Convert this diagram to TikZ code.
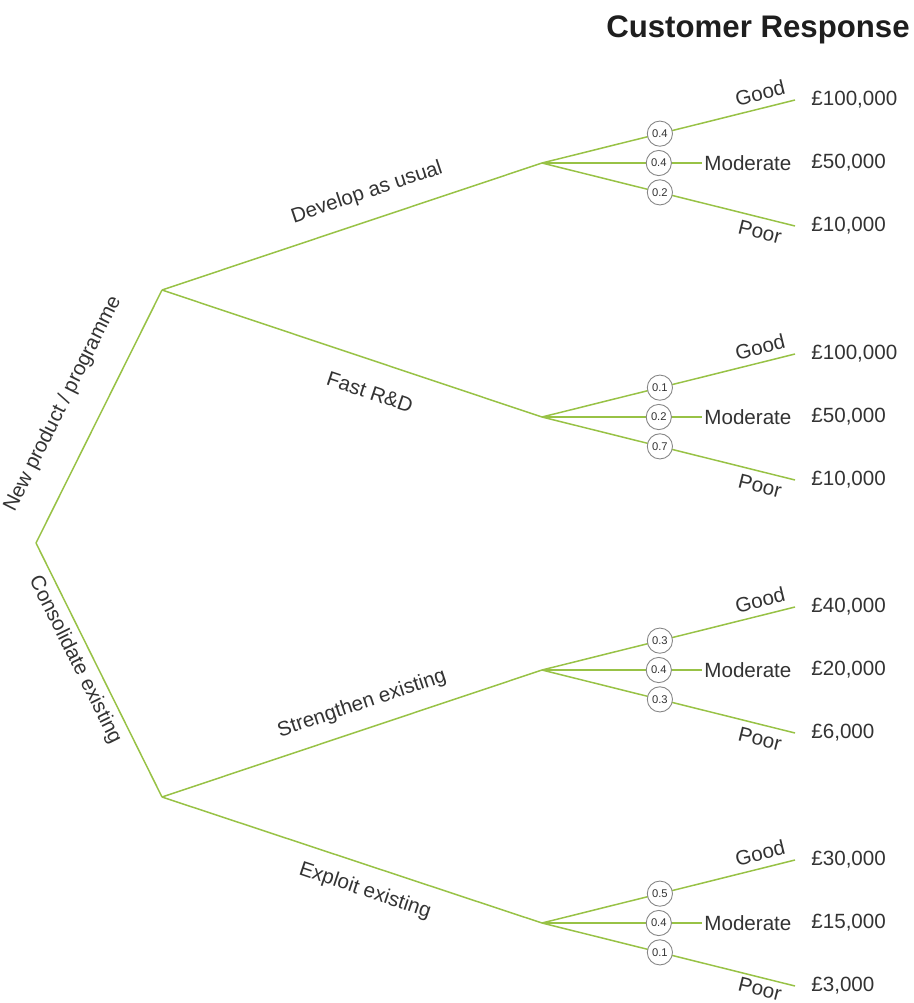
\documentclass[tikz,border=0pt]{standalone}
\usepackage{fontspec}
\setmainfont{Liberation Sans}
\definecolor{treegreen}{RGB}{152,194,70}
\definecolor{labelgrey}{RGB}{51,51,51}
\definecolor{ringgrey}{RGB}{135,135,135}
\definecolor{titleblack}{RGB}{30,30,30}

\begin{document}
\begin{tikzpicture}[x=0.5pt, y=-0.5pt,
  branch/.style={draw=treegreen, line width=0.75pt},
  prob/.style={draw=ringgrey, line width=0.45pt, fill=white, circle, inner sep=0pt, minimum size=12.6pt, text=labelgrey, font=\fontsize{5.6}{6}\selectfont},
  txt/.style={text=labelgrey, inner sep=1pt, font=\fontsize{10.3}{12}\selectfont}]
\useasboundingbox (0,0) rectangle (914,1003);

\node (title) [font=\bfseries\fontsize{15.6}{18}\selectfont, text=titleblack, anchor=base] at (758,37) {Customer Response};

% decision points
\coordinate (root) at (36,543);
\coordinate (np) at (162,290);
\coordinate (cons) at (162,797);
\coordinate (dev) at (542,163);
\coordinate (fast) at (542,417);
\coordinate (str) at (542,670);
\coordinate (exp) at (542,923);

\draw [branch] (root) -- (np);
\draw [branch] (root) -- (cons);
\draw [branch] (np) -- (dev);
\draw [branch] (np) -- (fast);
\draw [branch] (cons) -- (str);
\draw [branch] (cons) -- (exp);

\node (nplabel) [txt, rotate=63.5] at (63,404) {New product / programme};
\node (conslabel) [txt, rotate=-63.5] at (75,660) {Consolidate existing};
\node (devlabel) [txt, rotate=18.5] at (367,193) {Develop as usual};
\node (fastlabel) [txt, rotate=-18.5] at (370,392) {Fast R\&D};
\node (strlabel) [txt, rotate=18.5] at (362,704) {Strengthen existing};
\node (explabel) [txt, rotate=-18.5] at (365,891) {Exploit existing};

% develop as usual
\coordinate (devG) at (795,100);
\coordinate (devP) at (795,226);
\node (devmod) [txt, anchor=west] at (702,163) {Moderate};
\node (devgood) [txt, rotate=14] at (760,93) {Good};
\node (devpoor) [txt, rotate=-14] at (760,232) {Poor};
\node (devv1) [txt, anchor=west] at (809,100) {£100,000};
\node (devv2) [txt, anchor=west] at (809,163) {£50,000};
\node (devv3) [txt, anchor=west] at (809,226) {£10,000};
\draw [branch] (dev) -- node [prob, pos=0.466] (devp1) {0.4} (devG);
\draw [branch] (dev) -- node [prob, pos=0.73] (devp2) {0.4} (devmod);
\draw [branch] (dev) -- node [prob, pos=0.466] (devp3) {0.2} (devP);

% fast R&D
\coordinate (fastG) at (795,354);
\coordinate (fastP) at (795,480);
\node (fastmod) [txt, anchor=west] at (702,417) {Moderate};
\node (fastgood) [txt, rotate=14] at (760,347) {Good};
\node (fastpoor) [txt, rotate=-14] at (760,486) {Poor};
\node (fastv1) [txt, anchor=west] at (809,354) {£100,000};
\node (fastv2) [txt, anchor=west] at (809,417) {£50,000};
\node (fastv3) [txt, anchor=west] at (809,480) {£10,000};
\draw [branch] (fast) -- node [prob, pos=0.466] (fastp1) {0.1} (fastG);
\draw [branch] (fast) -- node [prob, pos=0.73] (fastp2) {0.2} (fastmod);
\draw [branch] (fast) -- node [prob, pos=0.466] (fastp3) {0.7} (fastP);

% strengthen existing
\coordinate (strG) at (795,607);
\coordinate (strP) at (795,733);
\node (strmod) [txt, anchor=west] at (702,670) {Moderate};
\node (strgood) [txt, rotate=14] at (760,600) {Good};
\node (strpoor) [txt, rotate=-14] at (760,739) {Poor};
\node (strv1) [txt, anchor=west] at (809,607) {£40,000};
\node (strv2) [txt, anchor=west] at (809,670) {£20,000};
\node (strv3) [txt, anchor=west] at (809,733) {£6,000};
\draw [branch] (str) -- node [prob, pos=0.466] (strp1) {0.3} (strG);
\draw [branch] (str) -- node [prob, pos=0.73] (strp2) {0.4} (strmod);
\draw [branch] (str) -- node [prob, pos=0.466] (strp3) {0.3} (strP);

% exploit existing
\coordinate (expG) at (795,860);
\coordinate (expP) at (795,986);
\node (expmod) [txt, anchor=west] at (702,923) {Moderate};
\node (expgood) [txt, rotate=14] at (760,853) {Good};
\node (exppoor) [txt, rotate=-14] at (760,989) {Poor};
\node (expv1) [txt, anchor=west] at (809,860) {£30,000};
\node (expv2) [txt, anchor=west] at (809,923) {£15,000};
\node (expv3) [txt, anchor=west] at (809,986) {£3,000};
\draw [branch] (exp) -- node [prob, pos=0.466] (expp1) {0.5} (expG);
\draw [branch] (exp) -- node [prob, pos=0.73] (expp2) {0.4} (expmod);
\draw [branch] (exp) -- node [prob, pos=0.466] (expp3) {0.1} (expP);
\end{tikzpicture}
\end{document}
